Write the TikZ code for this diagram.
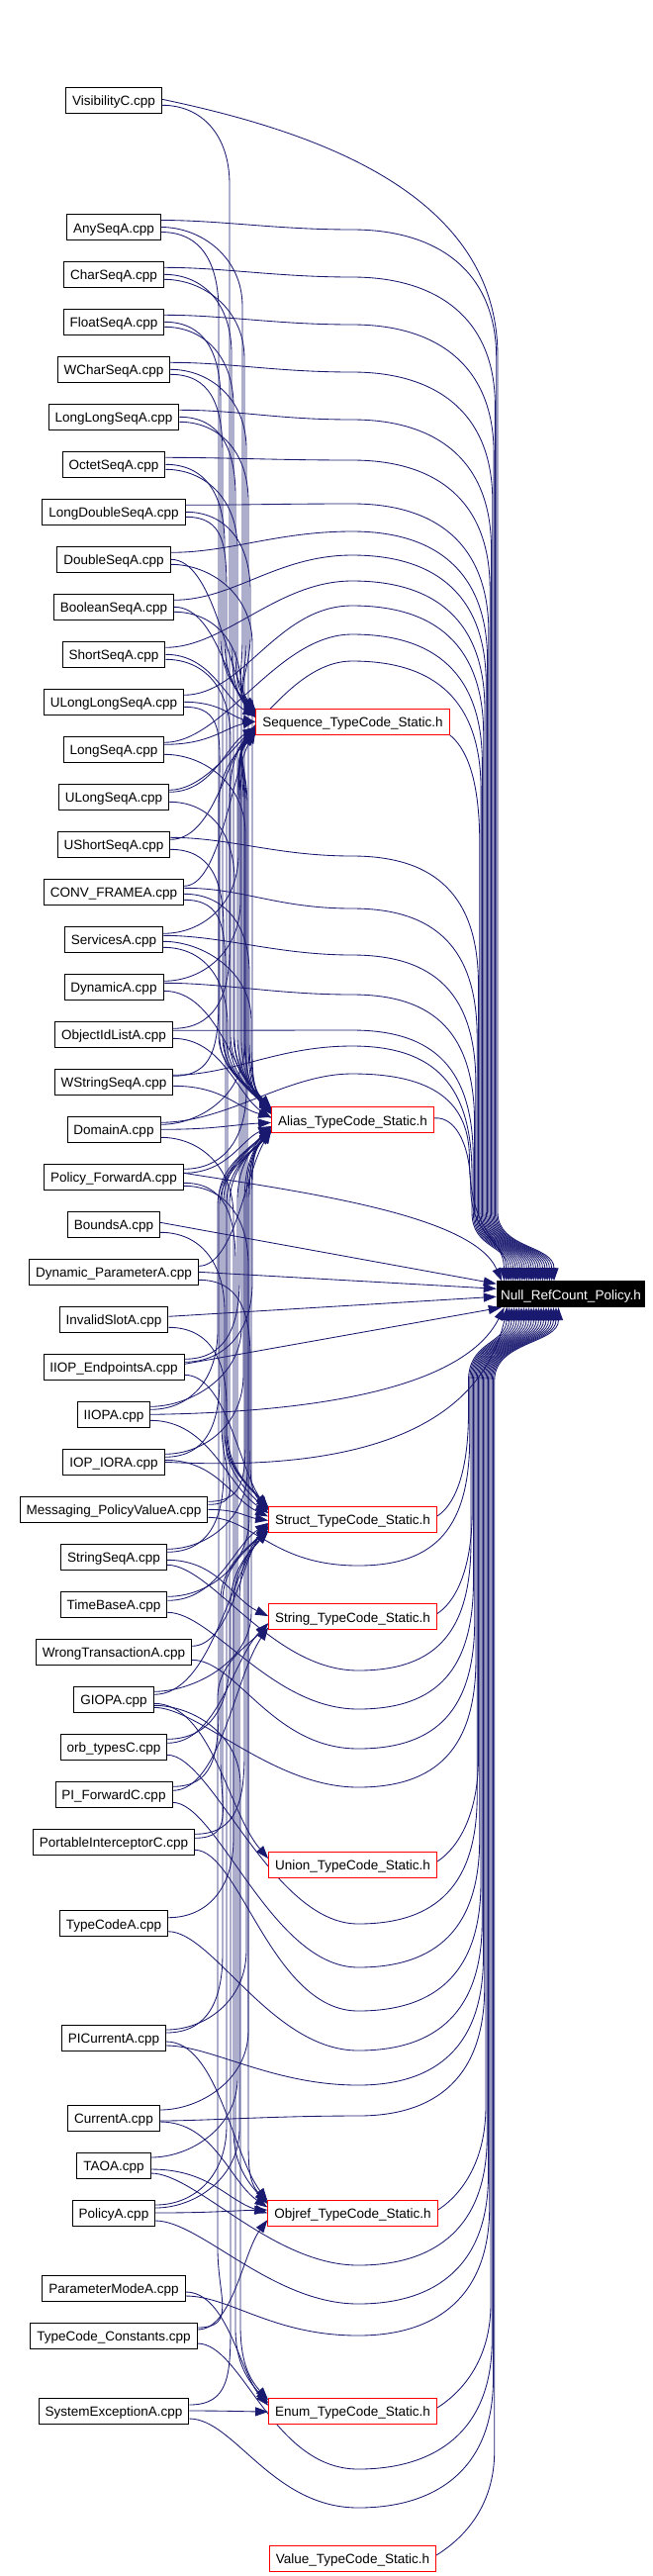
\documentclass[tikz,border=0pt]{standalone}
\usepackage{fontspec}
\setmainfont{Liberation Sans}
\usetikzlibrary{arrows.meta}
\definecolor{edgeblue}{RGB}{25,25,112}
\pgfdeclarelayer{bg}
\pgfdeclarelayer{edges}
\pgfsetlayers{bg,edges,main}
\newcount\ecnt
\newcommand\qget[3]{\pgfpointanchor{#1}{#2}\pgfgetlastxy{\qsx}{\qsy}\pgfmathsetmacro\qSx{\qsx}\pgfmathsetmacro\qSy{0-(\qsy)+(#3)}}
% cpp -> header
\newcommand\hedge[3]{%
  \global\advance\ecnt by 1\relax
  \qget{#1}{east}{#3}%
  \pgfpointanchor{#2}{west}\pgfgetlastxy{\qtx}{\qty}%
  \pgfmathsetmacro\qTx{\qtx}%
  \pgfmathsetmacro\qDz{0-(\qty)-(\qSy)}%
  \pgfmathsetmacro\qOff{0-max(-9,min(9,0.06*(\qDz)))+mod(\the\ecnt*5,7)-3}%
  \pgfmathsetmacro\qTy{0-(\qty)+(\qOff)}%
  \pgfmathsetmacro\qD{(\qTy)-(\qSy)}%
  \pgfmathsetmacro\qXV{219+mod(\the\ecnt*13,37)}%
  \pgfmathtruncatemacro\qFar{abs(\qD)>170}%
  \ifnum\qFar=1
    \pgfmathsetmacro\qSg{((\qD)>0)*2-1}%
    \pgfmathsetmacro\qAa{\qSx+40}%
    \pgfmathsetmacro\qAb{\qSy+(\qSg)*30}%
    \pgfmathsetmacro\qAc{\qSy+(\qSg)*80}%
    \pgfmathsetmacro\qAd{\qTy-(\qSg)*75}%
    \pgfmathsetmacro\qAe{\qTy-(\qSg)*40}%
    \pgfmathsetmacro\qAf{\qTx-20}%
    \pgfmathsetmacro\qAg{\qTy-(\qSg)*22}%
    \draw[e] (\qSx,\qSy) .. controls (\qAa,\qSy) and (\qXV,\qAb) .. (\qXV,\qAc) -- (\qXV,\qAd) .. controls (\qXV,\qAe) and (\qAf,\qAg) .. (\qTx,\qTy);
  \else
    \pgfmathsetmacro\qAa{\qSx+0.5*(\qTx-\qSx)}%
    \pgfmathsetmacro\qAf{\qTx-0.35*(\qTx-\qSx)}%
    \pgfmathsetmacro\qAg{\qTy-0.3*(\qD)}%
    \draw[e] (\qSx,\qSy) .. controls (\qAa,\qSy) and (\qAf,\qAg) .. (\qTx,\qTy);
  \fi}
% cpp above -> Null (down into top)
\newcommand\ndn[5]{%
  \qget{#1}{east}{#2}%
  \pgfmathsetmacro\qAa{\qSx+60}%
  \pgfmathsetmacro\qAb{#3+40}\pgfmathsetmacro\qAc{#3+130}%
  \draw[e] (\qSx,\qSy) .. controls (\qAa,\qSy) and (280,#3) .. (356,#3) .. controls (440,#3) and (#4,\qAb) .. (#4,\qAc) -- (#4,1225) .. controls (#4,1262) and (#5,1258) .. (#5,\qNT);}
% cpp below -> Null (up into bottom)
\newcommand\nup[5]{%
  \qget{#1}{east}{#2}%
  \pgfmathsetmacro\qAa{\qSx+45}%
  \pgfmathsetmacro\qAb{#3-40}\pgfmathsetmacro\qAc{#3-130}%
  \draw[e] (\qSx,\qSy) .. controls (\qAa,\qSy) and (275,#3) .. (362,#3) .. controls (442,#3) and (#4,\qAb) .. (#4,\qAc) -- (#4,1395) .. controls (#4,1355) and (#5,1358) .. (#5,\qNB);}
% header -> Null
\newcommand\hdn[3]{%
  \qget{#1}{south east}{0}%
  \pgfmathsetmacro\qAa{\qSx+15}\pgfmathsetmacro\qAb{\qSy+12}\pgfmathsetmacro\qAc{\qSy+40}\pgfmathsetmacro\qAd{\qSy+110}%
  \draw[e] (\qSx,\qSy) .. controls (\qAa,\qAb) and (#2,\qAc) .. (#2,\qAd) -- (#2,1225) .. controls (#2,1262) and (#3,1258) .. (#3,\qNT);}
\newcommand\hup[3]{%
  \qget{#1}{east}{-3}%
  \pgfmathsetmacro\qAa{\qSx+16}\pgfmathsetmacro\qAb{\qSy-10}\pgfmathsetmacro\qAc{\qSy-40}\pgfmathsetmacro\qAd{\qSy-105}%
  \draw[e] (\qSx,\qSy) .. controls (\qAa,\qAb) and (#2,\qAc) .. (#2,\qAd) -- (#2,1395) .. controls (#2,1355) and (#3,1358) .. (#3,\qNB);}
\begin{document}
\begin{tikzpicture}[x=1pt,y=-1pt,
  e/.style={draw=edgeblue,line width=0.85pt,line join=round,-{Triangle[length=13pt,width=9pt]}},
  box/.style={draw=black,line width=0.9pt,fill=white,font=\fontsize{13.5}{15}\selectfont,inner xsep=6.5pt,inner ysep=0pt,minimum height=26pt,text height=13pt,text depth=2pt},
  hbox/.style={box,draw=red},
  nbox/.style={box,fill=black,text=white,inner xsep=4pt}]
\begin{pgfonlayer}{bg}
\fill[white] (0,0) rectangle (659,2603);
\end{pgfonlayer}
\useasboundingbox (0,0) rectangle (659,2603);
% source files
\node[box] (c1) at (115,101.3) {VisibilityC.cpp};
\node[box] (c2) at (115,229.5) {AnySeqA.cpp};
\node[box] (c3) at (115,277.3) {CharSeqA.cpp};
\node[box] (c4) at (115,325.3) {FloatSeqA.cpp};
\node[box] (c5) at (115,373.3) {WCharSeqA.cpp};
\node[box] (c6) at (115,421.3) {LongLongSeqA.cpp};
\node[box] (c7) at (115,469.3) {OctetSeqA.cpp};
\node[box] (c8) at (115,517.3) {LongDoubleSeqA.cpp};
\node[box] (c9) at (115,565.3) {DoubleSeqA.cpp};
\node[box] (c10) at (115,613.3) {BooleanSeqA.cpp};
\node[box] (c11) at (115,661.3) {ShortSeqA.cpp};
\node[box] (c12) at (115,709.3) {ULongLongSeqA.cpp};
\node[box] (c13) at (115,757.3) {LongSeqA.cpp};
\node[box] (c14) at (115,805.3) {ULongSeqA.cpp};
\node[box] (c15) at (115,853.3) {UShortSeqA.cpp};
\node[box] (c16) at (115,901.3) {CONV\_FRAMEA.cpp};
\node[box] (c17) at (115,949.3) {ServicesA.cpp};
\node[box] (c18) at (115,997.3) {DynamicA.cpp};
\node[box] (c19) at (115,1045.3) {ObjectIdListA.cpp};
\node[box] (c20) at (115,1093.3) {WStringSeqA.cpp};
\node[box] (c21) at (115,1141.3) {DomainA.cpp};
\node[box] (c22) at (115,1189.3) {Policy\_ForwardA.cpp};
\node[box] (c23) at (115,1237.3) {BoundsA.cpp};
\node[box] (c24) at (115,1285.3) {Dynamic\_ParameterA.cpp};
\node[box] (c25) at (115,1333.3) {InvalidSlotA.cpp};
\node[box] (c26) at (115,1381.3) {IIOP\_EndpointsA.cpp};
\node[box] (c27) at (115,1429.3) {IIOPA.cpp};
\node[box] (c28) at (115,1477.3) {IOP\_IORA.cpp};
\node[box] (c29) at (115,1525.3) {Messaging\_PolicyValueA.cpp};
\node[box] (c30) at (115,1573.3) {StringSeqA.cpp};
\node[box] (c31) at (115,1621.3) {TimeBaseA.cpp};
\node[box] (c32) at (115,1669.3) {WrongTransactionA.cpp};
\node[box] (c33) at (115,1717.3) {GIOPA.cpp};
\node[box] (c34) at (115,1765.3) {orb\_typesC.cpp};
\node[box] (c35) at (115,1813.3) {PI\_ForwardC.cpp};
\node[box] (c36) at (115,1861.3) {PortableInterceptorC.cpp};
\node[box] (c37) at (115,1943.7) {TypeCodeA.cpp};
\node[box] (c38) at (115,2059) {PICurrentA.cpp};
\node[box] (c39) at (115,2140) {CurrentA.cpp};
\node[box] (c40) at (115,2188) {TAOA.cpp};
\node[box] (c41) at (115,2236) {PolicyA.cpp};
\node[box] (c42) at (115,2312) {ParameterModeA.cpp};
\node[box] (c43) at (115,2360) {TypeCode\_Constants.cpp};
\node[box] (c44) at (115,2436) {SystemExceptionA.cpp};
% headers
\node[hbox] (seq) at (356.5,729.3) {Sequence\_TypeCode\_Static.h};
\node[hbox] (alias) at (356.5,1131.8) {Alias\_TypeCode\_Static.h};
\node[hbox] (struct) at (356.5,1535) {Struct\_TypeCode\_Static.h};
\node[hbox] (string) at (356.5,1633.5) {String\_TypeCode\_Static.h};
\node[hbox] (union) at (356.5,1884) {Union\_TypeCode\_Static.h};
\node[hbox] (objref) at (356.5,2236) {Objref\_TypeCode\_Static.h};
\node[hbox] (enum) at (356.5,2436) {Enum\_TypeCode\_Static.h};
\node[hbox] (value) at (356.5,2585) {Value\_TypeCode\_Static.h};
\node[nbox] (null) at (577,1307.7) {Null\_RefCount\_Policy.h};
\qget{null}{north}{0}\let\qNT\qSy
\qget{null}{south}{0}\let\qNB\qSy
\begin{pgfonlayer}{edges}
% headers -> Null
\hdn{seq}{484.8}{527.8}
\draw[e] ([yshift=2pt]alias.east) .. controls (462,1128) and (475.7,1160) .. (475.7,1200) .. controls (475.7,1250) and (511.7,1255) .. (511.7,\qNT);
\hup{struct}{473.5}{512}
\hup{string}{477.25}{519.5}
\hup{union}{483.5}{532}
\hup{objref}{491}{547}
\hup{enum}{496}{557}
\hup{value}{499.75}{564.5}
% cpp -> Null, from above
\draw[e] ([yshift=1pt]c1.east) .. controls (330,135) and (503,200) .. (503,360) -- (503,1225) .. controls (503,1262) and (560,1258) .. (560,\qNT);
\ndn{c2}{-7}{232}{501.7}{557.7}
\ndn{c3}{-7}{280}{500.4}{555.4}
\ndn{c4}{-7}{328}{499.1}{553.1}
\ndn{c5}{-7}{376}{497.8}{550.8}
\ndn{c6}{-7}{424}{496.5}{548.5}
\ndn{c7}{-7}{465}{495.2}{546.2}
\ndn{c8}{-7}{509}{493.9}{543.9}
\ndn{c9}{-7}{537}{492.6}{541.6}
\ndn{c10}{-7}{561}{491.3}{539.3}
\ndn{c11}{-7}{587}{490}{537}
\ndn{c12}{-7}{612}{488.7}{534.7}
\ndn{c13}{-7}{641}{487.4}{532.4}
\ndn{c14}{-7}{668}{486.1}{530.1}
\ndn{c15}{-7}{865}{483.5}{525.5}
\ndn{c16}{-4}{918}{482.2}{523.2}
\ndn{c17}{-4}{965}{480.9}{520.9}
\ndn{c18}{-4}{1005}{479.6}{518.6}
\ndn{c19}{-4}{1041}{478.3}{516.3}
\ndn{c20}{-7}{1057}{477}{514}
\draw[e] ([yshift=7pt]c21.east) .. controls (230,1134) and (290,1085) .. (356,1085) .. controls (440,1085) and (474.4,1115) .. (474.4,1170) .. controls (474.4,1250) and (509.4,1250) .. (509.4,\qNT);
\draw[e] ([yshift=4pt]c22.east) .. controls (310,1205) and (478,1228) .. (507.1,\qNT);
% cpp -> Null, near level
\draw[e] ([yshift=2pt]c23.east) -- ([yshift=-3pt]null.north west);
\draw[e] (c24.east) -- ([yshift=-8pt]null.north west);
\draw[e] ([yshift=3pt]c25.east) -- ([yshift=-16pt]null.north west);
\draw[e] ([yshift=3pt]c26.east) -- ([xshift=5pt]null.south west);
\draw[e] (c27.east) .. controls (330,1427) and (470,1400) .. ([xshift=8pt]null.south west);
\draw[e] (c28.east) .. controls (370,1488) and (486,1440) .. ([xshift=11pt]null.south west);
% cpp -> Null, from below
\nup{c29}{8}{1582}{474.75}{514.5}
\nup{c30}{8}{1688}{476}{517}
\nup{c31}{8}{1727}{478.5}{522}
\nup{c32}{8}{1767}{479.75}{524.5}
\nup{c33}{8}{1806}{481}{527}
\nup{c34}{8}{1944}{482.25}{529.5}
\nup{c35}{8}{1988}{484.75}{534.5}
\nup{c36}{8}{2032}{486}{537}
\nup{c37}{8}{2072}{487.25}{539.5}
\nup{c38}{8}{2107}{488.5}{542}
\nup{c39}{3}{2138}{489.75}{544.5}
\nup{c40}{8}{2289}{492.25}{549.5}
\nup{c41}{8}{2328}{493.5}{552}
\nup{c42}{8}{2360}{494.75}{554.5}
\nup{c43}{8}{2495}{497.25}{559.5}
\nup{c44}{8}{2534}{498.5}{562}
% cpp -> headers
\hedge{c1}{alias}{5}
\hedge{c2}{seq}{0}\hedge{c2}{alias}{5}
\hedge{c3}{seq}{0}\hedge{c3}{alias}{5}
\hedge{c4}{seq}{0}\hedge{c4}{alias}{5}
\hedge{c5}{seq}{0}\hedge{c5}{alias}{5}
\hedge{c6}{seq}{0}\hedge{c6}{alias}{5}
\hedge{c7}{seq}{0}\hedge{c7}{alias}{5}
\hedge{c8}{seq}{0}\hedge{c8}{alias}{5}
\hedge{c9}{seq}{0}\hedge{c9}{alias}{5}
\hedge{c10}{seq}{0}\hedge{c10}{alias}{5}
\hedge{c11}{seq}{0}\hedge{c11}{alias}{5}
\hedge{c12}{seq}{0}\hedge{c12}{alias}{5}
\hedge{c13}{seq}{-5}\hedge{c13}{alias}{5}
\hedge{c14}{seq}{-5}\hedge{c14}{alias}{5}
\hedge{c15}{seq}{-5}\hedge{c15}{alias}{5}
\hedge{c16}{seq}{-6}\hedge{c16}{alias}{2}\hedge{c16}{struct}{8}
\hedge{c17}{seq}{-6}\hedge{c17}{alias}{2}\hedge{c17}{struct}{8}
\hedge{c18}{seq}{-6}\hedge{c18}{alias}{4}
\hedge{c19}{seq}{-6}\hedge{c19}{alias}{4}
\hedge{c20}{seq}{-6}\hedge{c20}{alias}{4}
\hedge{c21}{seq}{-5}\hedge{c21}{alias}{0}\hedge{c21}{objref}{8}
\hedge{c22}{seq}{-8}\hedge{c22}{alias}{-4}\hedge{c22}{enum}{6}\hedge{c22}{objref}{9}
\hedge{c23}{struct}{8}
\hedge{c24}{alias}{-6}\hedge{c24}{struct}{8}
\hedge{c25}{struct}{8}
\hedge{c26}{seq}{-8}\hedge{c26}{alias}{-5}\hedge{c26}{struct}{8}
\hedge{c27}{seq}{-8}\hedge{c27}{alias}{-5}\hedge{c27}{struct}{6}
\hedge{c28}{seq}{-8}\hedge{c28}{alias}{-5}\hedge{c28}{struct}{-2}
\hedge{c29}{seq}{-8}\hedge{c29}{alias}{-5}\hedge{c29}{struct}{0}
\hedge{c30}{seq}{-8}\hedge{c30}{alias}{-5}\hedge{c30}{string}{3}
\hedge{c31}{alias}{-8}\hedge{c31}{struct}{-4}
\hedge{c32}{struct}{-6}
\hedge{c33}{alias}{-8}\hedge{c33}{struct}{-5}\hedge{c33}{enum}{6}\hedge{c33}{union}{4}
\hedge{c34}{alias}{-8}\hedge{c34}{string}{-4}
\hedge{c35}{alias}{-8}\hedge{c35}{string}{-4}
\hedge{c36}{alias}{-8}\hedge{c36}{struct}{-4}
\hedge{c37}{struct}{-6}
\hedge{c38}{alias}{-8}\hedge{c38}{struct}{-5}\hedge{c38}{objref}{4}
\hedge{c39}{alias}{-8}\hedge{c39}{objref}{4}
\hedge{c40}{alias}{-8}\hedge{c40}{objref}{4}
\hedge{c41}{alias}{-8}\hedge{c41}{struct}{-5}\hedge{c41}{objref}{0}
\hedge{c42}{enum}{4}
\hedge{c43}{objref}{-6}\hedge{c43}{string}{-8}
\hedge{c44}{struct}{-6}\hedge{c44}{enum}{0}
\end{pgfonlayer}
\end{tikzpicture}
\end{document}
